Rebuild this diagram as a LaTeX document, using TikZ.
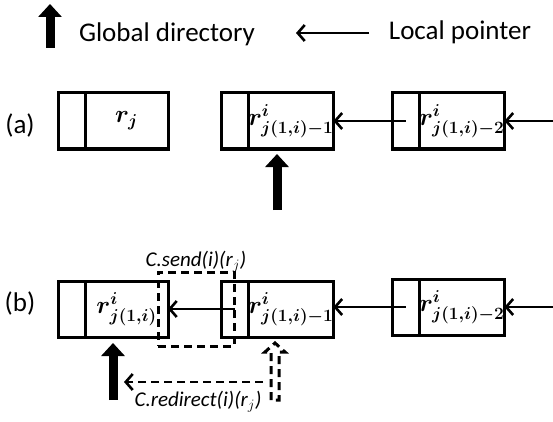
\documentclass[tikz,border=0pt]{standalone}
\usepackage{amsmath}
\usepackage{bm}
\usepackage[no-math]{fontspec}
\setmainfont{Carlito}
\usetikzlibrary{positioning, arrows.meta}

\tikzset{
  cell/.style={draw, line width=3pt, minimum width=27pt, minimum height=56pt, inner sep=0pt, outer sep=0pt},
  val/.style={draw, line width=3pt, minimum width=83pt, minimum height=56pt, inner sep=0pt, outer sep=0pt, font=\fontsize{25}{27}\selectfont},
  lptr/.style={line width=2.6pt, -{Straight Barb[length=7pt,width=16pt]}},
  gdir/.style={line width=9pt, -{Triangle[length=13pt,width=23pt]}},
  dsh/.style={line width=3pt, dash pattern=on 8pt off 5pt},
  txt/.style={font=\fontsize{27}{30}\selectfont},
  call/.style={font=\fontsize{21}{24}\selectfont\itshape}
}

\begin{document}
\begin{tikzpicture}[x=1pt, y=-1pt]
\useasboundingbox (0,0) rectangle (553,422);
% legend
\coordinate (g0) at (50,48);
\coordinate (g1) at (50,4);
\draw[gdir] (g0) -- (g1);
\node[txt] (gtxt) at (167,34) {Global directory};
\coordinate (l0) at (369,33);
\coordinate (l1) at (296,33);
\draw[lptr] (l0) -- (l1);
\node[txt] (ltxt) at (460,32) {Local pointer};

% (a)
\node[txt] (a) at (20,125) {(a)};
\node[cell] (ca1) at (71.5,121) {};
\node[val, right=0pt of ca1] (va1) {$\bm{r_j}$};
\node[cell] (ca2) at (234.5,121) {};
\node[val, right=0pt of ca2] (va2) {$\bm{r^i_{j(1,i)-1}}$};
\node[cell] (ca3) at (405.5,121) {};
\node[val, right=0pt of ca3] (va3) {$\bm{r^i_{j(1,i)-2}}$};
\coordinate (ea) at (553,121);
\draw[lptr] (ea) -- (va3.east);
\draw[lptr] (ca3.center) -- (va2.east);
\coordinate (ga) at (277,210);
\draw[gdir, shorten >=5pt] (ga) -- (ga |- va2.south);

% (b)
\node[txt] (b) at (20,303) {(b)};
\node[cell] (cb1) at (71.5,309) {};
\node[val, right=0pt of cb1] (vb1) {$\bm{r^i_{j(1,i)}}$};
\node[cell] (cb2) at (234.5,309) {};
\node[val, right=0pt of cb2] (vb2) {$\bm{r^i_{j(1,i)-1}}$};
\node[cell] (cb3) at (405.5,307) {};
\node[val, right=0pt of cb3] (vb3) {$\bm{r^i_{j(1,i)-2}}$};
\coordinate (eb) at (553,307);
\draw[lptr] (eb) -- (vb3.east);
\draw[lptr] (cb3.center) -- (cb3.center -| vb2.east);
\draw[lptr] (cb2.center) -- (cb2.center -| vb1.east);
\node[dsh, draw, minimum width=76pt, minimum height=74pt] (send) at (196,309) {};
\node[call, above=-5pt of send.north] (sendtxt) {C.send(i)(r$_j$)};
\coordinate (gb) at (113,400);
\draw[gdir, shorten >=6pt] (gb) -- (gb |- vb1.south);
% redirect
\coordinate (rd) at (275,400);
\draw[dsh] (rd) ++(-4,0) -- ++(0,-48) -- ++(-6,0) -- ++(10,-9) -- ++(10,9) -- ++(-6,0) -- ++(0,48) -- cycle;
\coordinate (rd0) at (263,382);
\coordinate (rd1) at (124,382);
\draw[lptr, dash pattern=on 8pt off 5pt] (rd0) -- (rd1);
\node[call] (redtxt) at (198,402) {C.redirect(i)(r$_j$)};
\end{tikzpicture}
\end{document}
